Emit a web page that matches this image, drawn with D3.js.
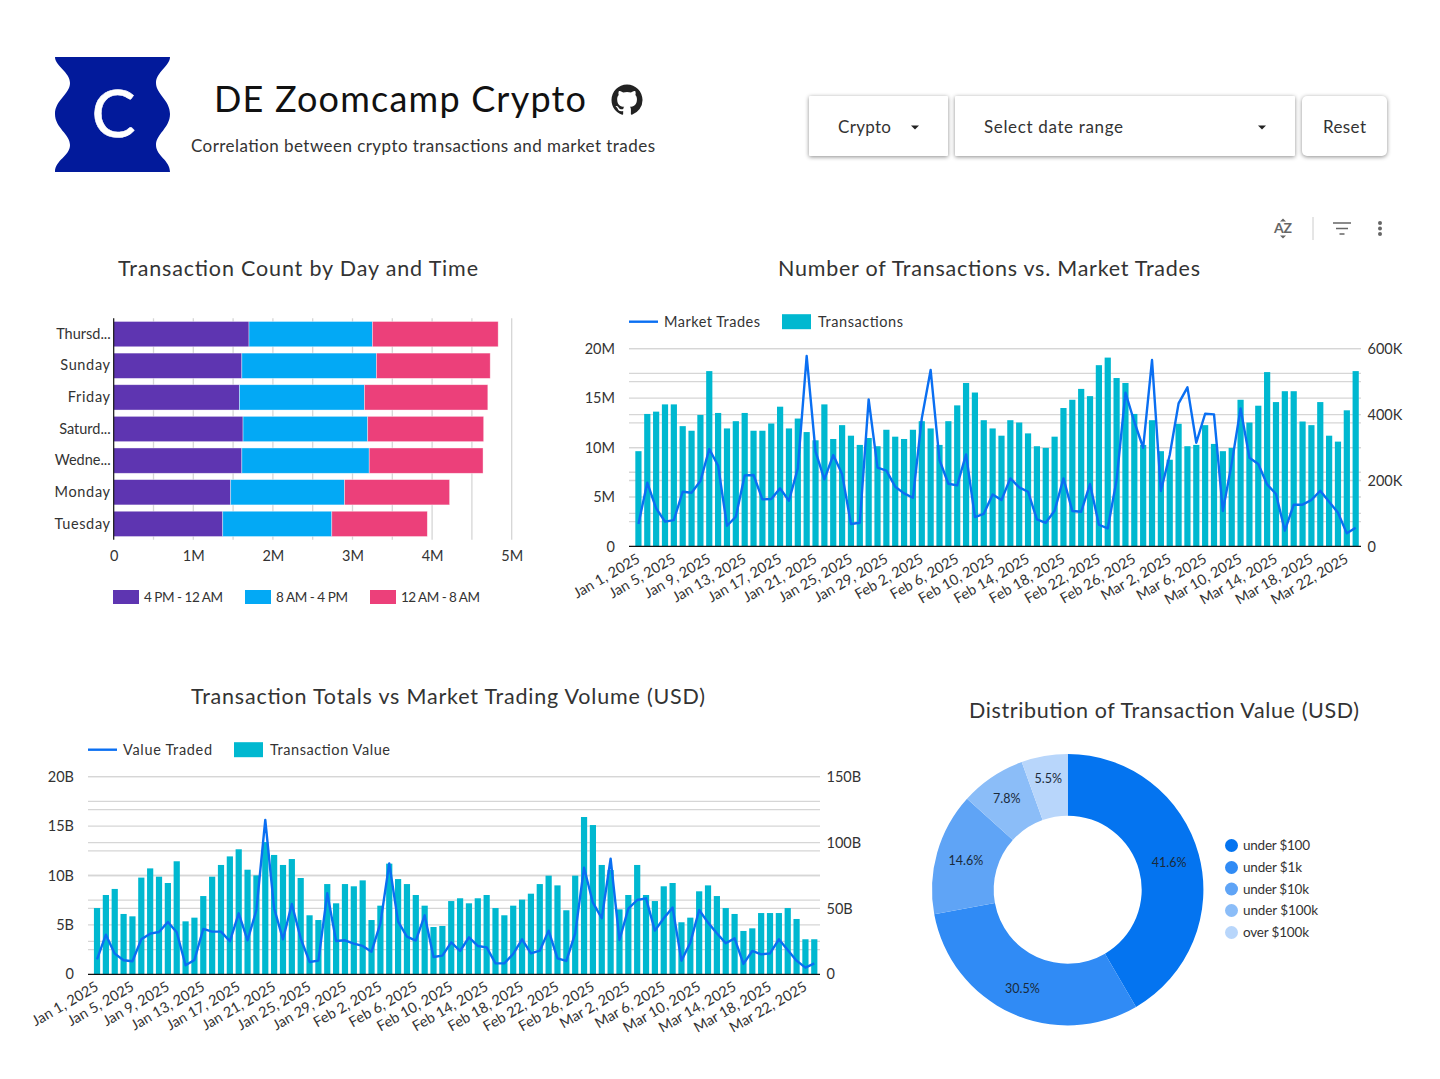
<!DOCTYPE html>
<html><head><meta charset="utf-8">
<script src="https://cdn.jsdelivr.net/npm/d3@7"></script>
<style>
html,body{margin:0;padding:0;background:#fff}
svg{display:block}
text{font-family:Lato,"Open Sans",sans-serif;fill:#333}
</style></head><body><svg id="c" width="1440" height="1079"></svg>
<script>
const dates=["Jan 1, 2025","Jan 2, 2025","Jan 3, 2025","Jan 4, 2025","Jan 5, 2025","Jan 6, 2025","Jan 7, 2025","Jan 8, 2025","Jan 9, 2025","Jan 10, 2025","Jan 11, 2025","Jan 12, 2025","Jan 13, 2025","Jan 14, 2025","Jan 15, 2025","Jan 16, 2025","Jan 17, 2025","Jan 18, 2025","Jan 19, 2025","Jan 20, 2025","Jan 21, 2025","Jan 22, 2025","Jan 23, 2025","Jan 24, 2025","Jan 25, 2025","Jan 26, 2025","Jan 27, 2025","Jan 28, 2025","Jan 29, 2025","Jan 30, 2025","Jan 31, 2025","Feb 1, 2025","Feb 2, 2025","Feb 3, 2025","Feb 4, 2025","Feb 5, 2025","Feb 6, 2025","Feb 7, 2025","Feb 8, 2025","Feb 9, 2025","Feb 10, 2025","Feb 11, 2025","Feb 12, 2025","Feb 13, 2025","Feb 14, 2025","Feb 15, 2025","Feb 16, 2025","Feb 17, 2025","Feb 18, 2025","Feb 19, 2025","Feb 20, 2025","Feb 21, 2025","Feb 22, 2025","Feb 23, 2025","Feb 24, 2025","Feb 25, 2025","Feb 26, 2025","Feb 27, 2025","Feb 28, 2025","Mar 1, 2025","Mar 2, 2025","Mar 3, 2025","Mar 4, 2025","Mar 5, 2025","Mar 6, 2025","Mar 7, 2025","Mar 8, 2025","Mar 9, 2025","Mar 10, 2025","Mar 11, 2025","Mar 12, 2025","Mar 13, 2025","Mar 14, 2025","Mar 15, 2025","Mar 16, 2025","Mar 17, 2025","Mar 18, 2025","Mar 19, 2025","Mar 20, 2025","Mar 21, 2025","Mar 22, 2025","Mar 23, 2025"];
const dateTicks=["Jan 1, 2025","Jan 5, 2025","Jan 9, 2025","Jan 13, 2025","Jan 17, 2025","Jan 21, 2025","Jan 25, 2025","Jan 29, 2025","Feb 2, 2025","Feb 6, 2025","Feb 10, 2025","Feb 14, 2025","Feb 18, 2025","Feb 22, 2025","Feb 26, 2025","Mar 2, 2025","Mar 6, 2025","Mar 10, 2025","Mar 14, 2025","Mar 18, 2025","Mar 22, 2025"];
// thousands
const transactions=[289,402,409,431,431,365,351,399,532,405,358,380,405,351,351,373,424,358,388,347,322,431,326,368,336,308,329,304,354,333,326,354,380,358,308,380,428,496,467,383,358,336,383,376,343,304,299,333,420,445,478,456,550,573,511,496,402,308,383,289,263,372,304,308,368,311,289,299,445,376,427,529,438,471,471,379,368,438,336,318,413,532];
// millions
const marketTrades=[2.26,6.44,3.85,2.5,2.66,5.53,5.43,6.61,9.85,8.16,2.09,3.0,7.18,7.22,4.76,4.79,5.87,4.62,7.89,19.26,9.58,6.78,9.24,7.32,2.26,2.39,14.87,7.96,7.66,6.04,5.36,4.92,12.95,17.84,8.74,6.34,6.17,9.31,2.97,3.3,5.26,4.69,6.88,5.97,5.53,2.73,2.39,3.61,6.88,3.58,3.51,6.31,2.19,1.82,6.71,15.55,12.61,9.98,18.85,5.6,9.24,14.47,16.09,10.49,13.42,13.36,3.58,8.4,13.96,8.97,8.33,6.27,5.3,1.59,4.22,4.22,4.69,5.63,4.52,3.41,1.32,1.89];
// billions
const transactionValue=[50.3,60.2,64.8,45.8,44,73.4,80.4,74.1,69.3,85.8,40.2,43,59.4,74.1,83,89.5,94.9,79.4,75.1,100.4,90.6,83,87.5,73.1,44.8,41.2,68.5,53.9,68.5,66.8,71.3,41.2,52.1,84,72.3,68.5,60.2,52.1,35.9,36.7,55.6,57.7,53.9,57.7,60.2,50.3,44.8,52.1,56.7,61.2,68.5,74.9,67.5,48.6,74.9,119.4,113.3,83,79.2,49.3,60.2,83,60.2,55.6,66.8,69.3,39.5,43,63,67.5,59.4,50.3,45.8,32.9,34.9,46.5,46.5,46.5,50.3,42,26.6,26.6];
const valueTraded=[1.52,4.01,2.09,1.42,1.32,3.54,4.11,4.28,5.3,4.25,.91,1.45,4.59,4.32,4.32,3.34,6.17,3.44,6.51,15.62,6.68,3.54,7.12,3.64,1.25,1.38,8.2,3.37,3.44,3.1,2.87,2.29,5.16,11.23,5.33,3.81,3.41,5.97,1.75,1.89,3.24,2.36,3.74,2.87,2.73,1.11,1.11,2.06,3.54,2.12,2.39,4.42,1.62,1.35,4.15,10.79,7.25,5.67,11.7,3.47,6.64,7.52,7.69,4.42,5.67,6.75,1.38,3.2,6.51,5.23,4.15,3.14,3.64,1.05,2.36,2.02,2.12,3.54,2.46,1.38,.67,1.11];
const days=["Thursd...","Sunday","Friday","Saturd...","Wedne...","Monday","Tuesday"];
const eveningCounts=[1.70,1.61,1.58,1.625,1.61,1.47,1.37];
const dayCounts=[1.55,1.69,1.57,1.566,1.60,1.43,1.37];
const nightCounts=[1.58,1.43,1.55,1.457,1.43,1.32,1.20];
const shiftNames=["4 PM - 12 AM","8 AM - 4 PM","12 AM - 8 AM"];
const shiftColors=["#5e35b1","#03a9f5","#ec407a"];
const valueBands=["under $100","under $1k","under $10k","under $100k","over $100k"];
const valueShares=[41.6,30.5,14.6,7.8,5.5];
const bandColors=["#0474f0","#308bf5","#5fa4f6","#8bbdf8","#b8d6fb"];

const svg=d3.select("#c");
const GRID="#d6d6d6",BAR="#00b8d0",LINE="#0a6ff2",INK="#333";
function txt(x,y,s,size,w,anchor){
  const t=svg.append("text").attr("x",x).attr("y",y).attr("dy",".35em").attr("font-size",size).attr("text-anchor",anchor||"start").text(s);
  if(w){t.attr("textLength",w).attr("lengthAdjust","spacing");}
  return t;
}
// header
svg.append("path").attr("fill","#021a9b").attr("d","M55,57L170,57C170,66 156,72 156,83C156,94 170,100 170,114C170,128 156,134 156,145C156,156 170,160 170,172L55,172C55,160 70,156 70,145C70,134 55,128 55,114C55,100 70,94 70,83C70,72 55,66 55,57Z");
txt(113.5,114,"C",66,null,"middle").style("fill","#fff").style("stroke","#fff").style("stroke-width",.6);
txt(214,99.5,"DE Zoomcamp Crypto",36,372).style("fill","#111");
txt(191,146,"Correlation between crypto transactions and market trades",17,464);
svg.append("g").attr("transform","translate(611.5,84.5) scale(1.94)").append("path").attr("fill","#222").attr("d","M8 0C3.58 0 0 3.58 0 8c0 3.54 2.29 6.53 5.47 7.59.4.07.55-.17.55-.38 0-.19-.01-.82-.01-1.49-2.01.37-2.53-.49-2.69-.94-.09-.23-.48-.94-.82-1.13-.28-.15-.68-.52-.01-.53.63-.01 1.08.58 1.23.82.72 1.21 1.87.87 2.33.66.07-.52.28-.87.51-1.07-1.78-.2-3.64-.89-3.64-3.95 0-.87.31-1.59.82-2.15-.08-.2-.36-1.02.08-2.12 0 0 .67-.21 2.2.82.64-.18 1.32-.27 2-.27.68 0 1.36.09 2 .27 1.53-1.04 2.2-.82 2.2-.82.44 1.1.16 1.92.08 2.12.51.56.82 1.27.82 2.15 0 3.07-1.87 3.75-3.65 3.95.29.25.54.73.54 1.48 0 1.07-.01 1.93-.01 2.2 0 .21.15.46.55.38A8.013 8.013 0 0016 8c0-4.42-3.58-8-8-8z");
function box(x,w,r){svg.append("rect").attr("x",x).attr("y",96).attr("width",w).attr("height",60).attr("rx",r).attr("fill","#fff").style("filter","drop-shadow(0 1px 2px rgba(0,0,0,.45))");}
box(809,139,1);box(955,340,1);box(1302,85,5);
txt(838,127,"Crypto",17,53);
txt(984,127,"Select date range",17,139);
txt(1323,127,"Reset",17,43);
[915,1262].forEach(x=>svg.append("path").attr("fill","#222").attr("d",`M${x-4},125.5h8l-4,4z`));
// toolbar icons
const ICON="#666";
txt(1283,228.5,"AZ",14,null,"middle").attr("font-weight",700).style("fill",ICON);
svg.append("path").attr("fill",ICON).attr("d","M1283,218.5l3,3h-6zM1283,238.5l3,-3h-6z");
svg.append("line").attr("x1",1313).attr("x2",1313).attr("y1",217).attr("y2",240).attr("stroke","#ccc");
svg.append("path").attr("stroke",ICON).attr("stroke-width",1.6).attr("fill","none").attr("d","M1333,223h18M1336,228.500h12M1339.500,234h5");
[223,228.5,234].forEach(y=>svg.append("circle").attr("cx",1380).attr("cy",y).attr("r",2).attr("fill",ICON));

// titles
txt(118,268,"Transaction Count by Day and Time",21.5,360);
txt(778,268,"Number of Transactions vs. Market Trades",21.5,422);
txt(191,696,"Transaction Totals vs Market Trading Volume (USD)",21.5,514);
txt(969,710,"Distribution of Transaction Value (USD)",21.5,390);

// stacked bars
const xBar=d3.scaleLinear().domain([0,5]).range([113.7,511.7]);
const yBar=d3.scaleBand().domain(days).range([318.3,539.7]).paddingInner(.2).paddingOuter(.1);
const gridG=svg.append("g");
gridG.selectAll("line").data(d3.range(0.5,5.01,.5)).join("line")
  .attr("x1",d=>xBar(d)).attr("x2",d=>xBar(d)).attr("y1",318.3).attr("y2",539.7).attr("stroke",GRID).attr("stroke-width",1.3);
const stackRows=days.map((d,i)=>({day:d,a:eveningCounts[i],b:dayCounts[i],c:nightCounts[i]}));
const stacked=d3.stack().keys(["a","b","c"])(stackRows);
stacked.forEach((s,i)=>{
  svg.append("g").selectAll("rect").data(s).join("rect")
    .attr("x",d=>xBar(d[0])).attr("y",d=>yBar(d.data.day))
    .attr("width",d=>xBar(d[1])-xBar(d[0])).attr("height",yBar.bandwidth())
    .attr("fill",shiftColors[i]).attr("stroke","#fff").attr("stroke-opacity",.55).attr("stroke-width",.7);
});
const axStyle=g=>{g.select(".domain").remove();g.selectAll(".tick line").remove();g.selectAll("text").attr("font-size",14.5).attr("font-family",null).style("fill",INK);};
svg.append("g").attr("transform","translate(113.7,0)").call(d3.axisLeft(yBar).tickSize(0).tickPadding(3)).call(axStyle).selectAll("text").style("letter-spacing",d=>d.endsWith("...")?"0":".65px");
svg.append("g").attr("transform","translate(0,539.7)").call(d3.axisBottom(xBar).tickValues([0,1,2,3,4,5]).tickSize(0).tickPadding(11).tickFormat(d=>d?d+"M":"0")).call(axStyle);
svg.append("line").attr("x1",113.7).attr("x2",113.7).attr("y1",318.3).attr("y2",539.7).attr("stroke","#111").attr("stroke-width",1.2);
[[113,144,79],[245,276,72],[370,401,79]].forEach((p,i)=>{
  svg.append("rect").attr("x",p[0]).attr("y",590).attr("width",26).attr("height",14).attr("fill",shiftColors[i]);
  txt(p[1],597.5,shiftNames[i],13.5,p[2]);
});

// combo charts
function combo(cfg){
  const x=d3.scaleBand().domain(dates).range([cfg.start,cfg.start+82*8.855]);
  const yL=d3.scaleLinear().domain([0,20]).range([cfg.base,cfg.top]);
  const yR=d3.scaleLinear().domain([0,cfg.rMax]).range([cfg.base,cfg.top]);
  const gy=[...d3.range(2.5,20.01,2.5).map(yL),...d3.range(cfg.rStep,cfg.rMax+.01,cfg.rStep).map(yR)];
  svg.append("g").selectAll("line").data(gy).join("line")
    .attr("x1",cfg.x0).attr("x2",cfg.x1).attr("y1",d=>d).attr("y2",d=>d).attr("stroke",GRID).attr("stroke-width",1.3);
  svg.append("g").selectAll("rect").data(cfg.bars).join("rect")
    .attr("x",(d,i)=>x(dates[i])+x.bandwidth()/2-3.1).attr("width",6.2)
    .attr("y",d=>yR(d)).attr("height",d=>yR(0)-yR(d)).attr("fill",BAR);
  svg.append("path").datum(cfg.line).attr("fill","none").attr("stroke",LINE).attr("stroke-width",2.4).attr("stroke-linejoin","round")
    .attr("d",d3.line().x((d,i)=>x(dates[i])+x.bandwidth()/2).y(d=>yL(d)));
  svg.append("line").attr("x1",cfg.x0).attr("x2",cfg.x1).attr("y1",cfg.base).attr("y2",cfg.base).attr("stroke","#111").attr("stroke-width",1.2);
  svg.append("g").attr("transform",`translate(${cfg.x0},0)`).call(d3.axisLeft(yL).tickValues([0,5,10,15,20]).tickSize(0).tickPadding(14).tickFormat(d=>d?d+cfg.lUnit:"0")).call(axStyle);
  svg.append("g").attr("transform",`translate(${cfg.x1},0)`).call(d3.axisRight(yR).tickValues(cfg.rTicks).tickSize(0).tickPadding(6.5).tickFormat(d=>d?d+cfg.rUnit:"0")).call(axStyle);
  const gx=svg.append("g").attr("transform",`translate(0,${cfg.base})`).call(d3.axisBottom(x).tickValues(dateTicks).tickSize(0)).call(axStyle);
  gx.selectAll("text").attr("text-anchor","end").attr("transform","translate(-2.5,6.5) rotate(-30)").attr("dy",".7em").attr("y",0).attr("font-size",14.5);
  const ly=cfg.top-27;
  svg.append("line").attr("x1",cfg.x0).attr("x2",cfg.x0+29).attr("y1",ly).attr("y2",ly).attr("stroke",LINE).attr("stroke-width",2.4);
  txt(cfg.x0+35,ly,cfg.lineName,14.5,cfg.lineW);
  svg.append("rect").attr("x",cfg.swatch).attr("y",ly-7.5).attr("width",29).attr("height",15).attr("fill",BAR);
  txt(cfg.swatch+36,ly,cfg.barName,14.5,cfg.barW);
}
combo({start:634,x0:629,x1:1361,top:348.7,base:546.4,bars:transactions,line:marketTrades,rMax:600,rStep:100,rTicks:[0,200,400,600],rUnit:"K",lUnit:"M",lineName:"Market Trades",barName:"Transactions",swatch:782,lineW:96,barW:85});
combo({start:92.6,x0:88,x1:820,top:776.7,base:974.3,bars:transactionValue,line:valueTraded,rMax:150,rStep:25,rTicks:[0,50,100,150],rUnit:"B",lUnit:"B",lineName:"Value Traded",barName:"Transaction Value",swatch:234,lineW:89,barW:120});

// donut
const pie=d3.pie().sort(null)(valueShares);
const arc=d3.arc().innerRadius(74).outerRadius(135.7);
const labelRadius=[105,108.7,105.8,109.6,113];
const dg=svg.append("g").attr("transform","translate(1067.7,889.7)");
dg.selectAll("path").data(pie).join("path").attr("d",arc).attr("fill",(d,i)=>bandColors[i]);
dg.selectAll("text").data(pie).join("text")
  .attr("transform",(d,i)=>`translate(${d3.arc().innerRadius(labelRadius[i]).outerRadius(labelRadius[i]).centroid(d)})`)
  .attr("text-anchor","middle").attr("dy",".35em").attr("font-size",12.5).style("fill","#1a2a3a").text(d=>d.data.toFixed(1)+"%");
valueBands.forEach((b,i)=>{
  const y=[845.5,867.5,889,910.5,932.5][i];
  svg.append("circle").attr("cx",1231.5).attr("cy",y).attr("r",6.5).attr("fill",bandColors[i]);
  txt(1243,y,b,13.5,[67,59,66,75,66][i]);
});
</script></body></html>
